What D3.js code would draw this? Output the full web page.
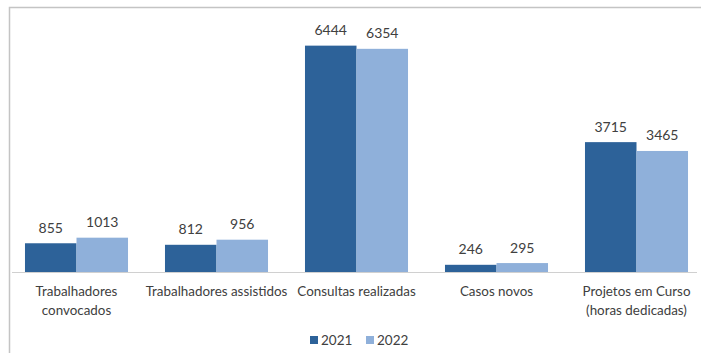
<!DOCTYPE html>
<html>
<head>
<meta charset="utf-8">
<script src="https://cdn.jsdelivr.net/npm/d3@7"></script>
<style>
  html, body { margin: 0; padding: 0; background: #fff; }
  svg { display: block; }
  text { font-family: Lato, "Open Sans", sans-serif; fill: #404040; }
</style>
</head>
<body>
<svg id="chart" width="701" height="353"></svg>
<script>
// Categories (label lines) and the yearly values per category
const categories = [
  ["Trabalhadores", "convocados"],
  ["Trabalhadores assistidos"],
  ["Consultas realizadas"],
  ["Casos novos"],
  ["Projetos em Curso", "(horas dedicadas)"]
];
const years = ["2021", "2022"];
const values2021 = [855, 812, 6444, 246, 3715];
const values2022 = [1013, 956, 6354, 295, 3465];
const colors = ["#2d6299", "#8fb0da"];

const svg = d3.select("#chart");
const W = 701, H = 353;
const axisY = 272;

// Frame around the chart area
svg.append("path")
  .attr("d", `M9.5,${H} L9.5,7.5 L${W},7.5`)
  .attr("fill", "none")
  .attr("stroke", "#c4c4c4")
  .attr("stroke-width", 1.5);

const keys = categories.map((c, i) => "c" + i);

const x0 = d3.scaleBand()
  .domain(keys)
  .range([6.5, 706.5])
  .paddingInner(0.264)
  .paddingOuter(0.132);

const x1 = d3.scaleBand()
  .domain(years)
  .range([0, x0.bandwidth()]);

const y = d3.scaleLinear()
  .domain([0, 7000])
  .range([273.5, 273.5 - 7000 * 0.03536]);

const rows = keys.map((k, i) => ({
  key: k,
  lines: categories[i],
  vals: [
    { year: years[0], v: values2021[i], color: colors[0] },
    { year: years[1], v: values2022[i], color: colors[1] }
  ]
}));

const groups = svg.append("g").selectAll("g")
  .data(rows)
  .join("g")
  .attr("transform", d => `translate(${x0(d.key)},0)`);

// Bars run down to the category axis line
groups.selectAll("rect")
  .data(d => d.vals)
  .join("rect")
  .attr("x", d => x1(d.year))
  .attr("width", x1.bandwidth())
  .attr("y", d => y(d.v))
  .attr("height", d => axisY - y(d.v))
  .attr("fill", d => d.color);

groups.selectAll("text.val")
  .data(d => d.vals)
  .join("text")
  .attr("class", "val")
  .attr("x", d => x1(d.year) + x1.bandwidth() / 2)
  .attr("y", d => y(d.v) - 10.5)
  .attr("text-anchor", "middle")
  .attr("font-size", 14)
  .text(d => d.v);

// Category axis line
svg.append("line")
  .attr("x1", 12).attr("x2", 697)
  .attr("y1", axisY + 0.5).attr("y2", axisY + 0.5)
  .attr("stroke", "#d0d0d0")
  .attr("stroke-width", 1);

// Category labels
groups.each(function(d) {
  const t = d3.select(this).append("text")
    .attr("text-anchor", "middle")
    .attr("font-size", 13.4)
    .attr("y", 296);
  d.lines.forEach((line, j) => {
    t.append("tspan")
      .attr("x", x0.bandwidth() / 2)
      .attr("dy", j === 0 ? 0 : 18.5)
      .text(line);
  });
});

// Legend
const legend = svg.append("g").attr("transform", "translate(0,340)");
const legendX = [310, 366];
years.forEach((yr, i) => {
  const g = legend.append("g").attr("transform", `translate(${legendX[i]},0)`);
  g.append("rect")
    .attr("x", 0).attr("y", -4)
    .attr("width", 8).attr("height", 8)
    .attr("fill", colors[i]);
  g.append("text")
    .attr("x", 11).attr("y", 5)
    .attr("font-size", 13.5)
    .text(yr);
});
</script>
</body>
</html>
